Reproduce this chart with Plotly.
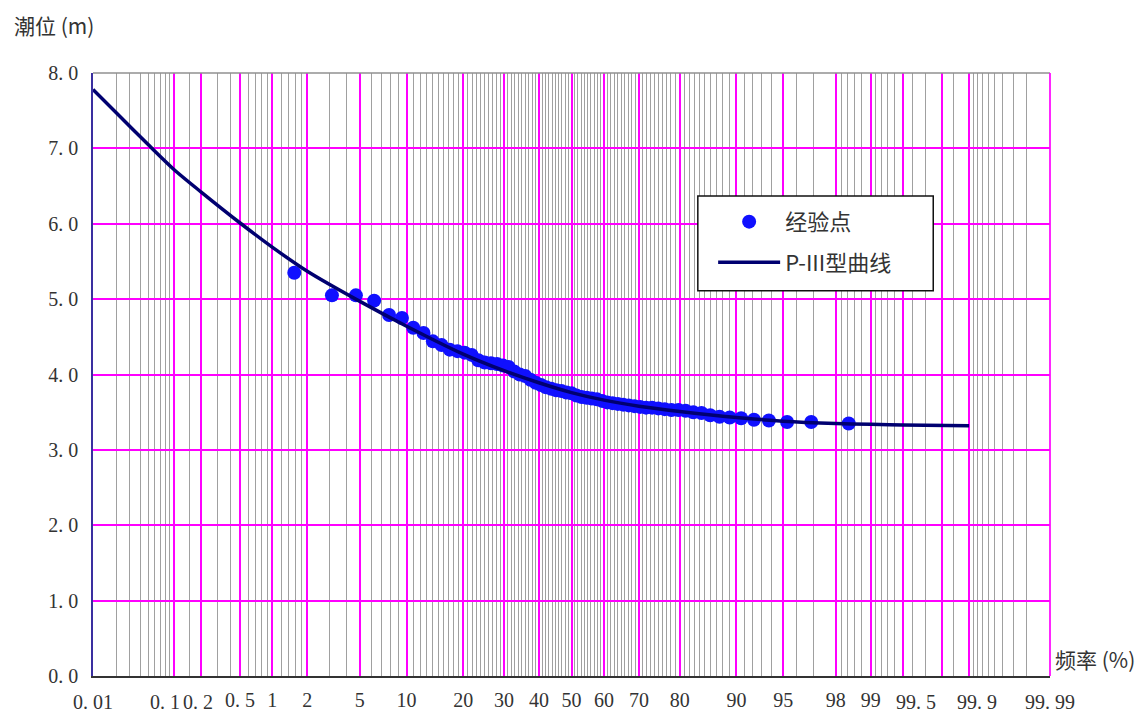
import plotly.graph_objects as go
from statistics import NormalDist

# ---- data ----------------------------------------------------------------
# empirical points: exceedance frequency (%) and tide level (m)
obs_freq = [1.56, 3.13, 4.69, 6.25, 7.81, 9.38, 10.94, 12.50, 14.06, 15.63,
            17.19, 18.75, 20.31, 21.88, 23.44, 25.00, 26.56, 28.13, 29.69, 31.25,
            32.81, 34.38, 35.94, 37.50, 39.06, 40.63, 42.19, 43.75, 45.31, 46.88,
            48.44, 50.00, 51.56, 53.13, 54.69, 56.25, 57.81, 59.38, 60.94, 62.50,
            64.06, 65.63, 67.19, 68.75, 70.31, 71.88, 73.44, 75.00, 76.56, 78.13,
            79.69, 81.25, 82.81, 84.38, 85.94, 87.50, 89.06, 90.63, 92.19, 93.75,
            95.31, 96.88, 98.44]
obs_level = [5.35, 5.05, 5.05, 4.98, 4.79, 4.75, 4.62, 4.55, 4.44, 4.39,
             4.33, 4.31, 4.29, 4.26, 4.19, 4.16, 4.15, 4.14, 4.12, 4.10,
             4.04, 4.00, 3.98, 3.93, 3.89, 3.86, 3.83, 3.81, 3.79, 3.78,
             3.76, 3.75, 3.72, 3.70, 3.69, 3.68, 3.67, 3.65, 3.63, 3.62,
             3.61, 3.60, 3.59, 3.58, 3.57, 3.56, 3.56, 3.55, 3.54, 3.53,
             3.53, 3.52, 3.50, 3.49, 3.46, 3.44, 3.43, 3.42, 3.40, 3.39,
             3.37, 3.37, 3.35]

# fitted Pearson type III curve
curve_freq = [0.01, 0.02, 0.05, 0.1, 0.2, 0.5, 1, 2, 5, 10, 20, 30, 40, 50,
              60, 70, 80, 90, 95, 98, 99, 99.5, 99.9]
curve_level = [7.78, 7.475, 7.05, 6.72, 6.42, 6.01, 5.69, 5.37, 4.97, 4.64,
               4.27, 4.05, 3.89, 3.76, 3.66, 3.58, 3.51, 3.43, 3.38, 3.35,
               3.34, 3.33, 3.32]

# probability-paper grid and labels (%)
major_grid = [0.1, 0.2, 0.5, 1, 2, 5, 10, 20, 30, 40, 50, 60, 70, 80, 90,
              95, 98, 99, 99.5, 99.8, 99.9, 99.99]
minor_grid = ([0.02, 0.03, 0.04, 0.05, 0.06, 0.07, 0.08, 0.09, 0.15, 0.3, 0.4,
               0.6, 0.7, 0.8, 0.9, 1.2, 1.4, 1.6, 1.8, 3, 4, 6, 7, 8, 9]
              + list(range(11, 20)) + list(range(21, 30)) + list(range(31, 40))
              + list(range(41, 50)) + list(range(51, 60)) + list(range(61, 70))
              + list(range(71, 80)) + list(range(81, 90))
              + [91, 92, 93, 94, 96, 97, 98.2, 98.4, 98.6, 98.8,
                 99.1, 99.2, 99.3, 99.4, 99.6, 99.7, 99.85,
                 99.91, 99.92, 99.93, 99.94, 99.95, 99.96, 99.97, 99.98])
tick_freq = [0.01, 0.1, 0.2, 0.5, 1, 2, 5, 10, 20, 30, 40, 50, 60, 70, 80,
             90, 95, 98, 99, 99.5, 99.9, 99.99]
tick_text = ["0. 01", "0. 1", "0. 2", "0. 5", "1", "2", "5", "10", "20", "30",
             "40", "50", "60", "70", "80", "90", "95", "98", "99", "99. 5",
             "99. 9", "99. 99"]
y_ticks = [0, 1, 2, 3, 4, 5, 6, 7, 8]
y_text = ["0. 0", "1. 0", "2. 0", "3. 0", "4. 0", "5. 0", "6. 0", "7. 0", "8. 0"]

# horizontal nudges (px) for the x labels that sit off their grid line
label_nudge = {0.1: -9, 0.2: -3, 99.5: 13, 99.9: 8}

# ---- normal probability scale ----------------------------------------------
_nd = NormalDist()


def zq(p):
    return _nd.inv_cdf(p / 100.0)


PINK = "#ff00ff"
GREY = "#a0a0a0"
INK = "#333333"
NUM_FONT = "Liberation Serif"
CJK_FONT = "Noto Sans CJK SC"
LABEL_SIZE = 20

fig = go.Figure()

fig.add_trace(go.Scatter(
    x=[zq(p) for p in obs_freq], y=obs_level, mode="markers",
    name="经验点", legendgroup="pts",
    marker=dict(color="#1010ff", size=14, line=dict(width=0)),
))
fig.add_trace(go.Scatter(
    x=[zq(p) for p in curve_freq], y=curve_level, mode="lines",
    name="P-III型曲线", legendgroup="fit",
    line=dict(color="#000070", width=3.5, shape="spline", smoothing=0.8),
))

xmin, xmax = zq(0.01), zq(99.99)

# labels drawn by the axis itself: every labelled major line except the
# border ones and the nudged ones, which are placed as annotations below
axis_labels = {p: t for p, t in zip(tick_freq, tick_text)
               if p not in label_nudge and p not in (0.01, 99.99)}

fig.update_xaxes(
    range=[xmin, xmax],
    tickmode="array",
    tickvals=[zq(p) for p in major_grid],
    ticktext=[axis_labels.get(p, "") for p in major_grid],
    tickangle=0,
    showgrid=True, gridcolor=PINK, gridwidth=1.7,
    minor=dict(tickmode="array", tickvals=[zq(p) for p in minor_grid],
               showgrid=True, gridcolor=GREY, gridwidth=1, ticks=""),
    ticks="", showline=True, linecolor=INK, linewidth=2,
    tickfont=dict(family=NUM_FONT, size=LABEL_SIZE, color=INK),
    ticklabelstandoff=5, automargin=False,
    zeroline=False, fixedrange=True,
)
fig.update_yaxes(
    range=[0, 8], tickmode="array", tickvals=y_ticks, ticktext=y_text,
    showgrid=True, gridcolor=PINK, gridwidth=1.7,
    ticks="", showline=True, linecolor="#3a2fa0", linewidth=1.5,
    tickfont=dict(family=NUM_FONT, size=LABEL_SIZE, color=INK),
    zeroline=False, ticklabelstandoff=9, automargin=False,
)

# remaining x labels: the two border values and the nudged ones
for p, t in zip(tick_freq, tick_text):
    if p in axis_labels:
        continue
    fig.add_annotation(x=zq(p), y=0, xref="x", yref="y", text=t,
                       showarrow=False, yanchor="top", yshift=-13,
                       xshift=label_nudge.get(p, 0),
                       font=dict(family=NUM_FONT, size=LABEL_SIZE, color=INK))

# frame: grey top edge, pink right edge
fig.add_shape(type="line", xref="paper", yref="paper", x0=0, x1=1, y0=1, y1=1,
              line=dict(color="#909090", width=1.5))
fig.add_shape(type="line", xref="paper", yref="paper", x0=1, x1=1, y0=0, y1=1,
              line=dict(color=PINK, width=1.7))

# legend frame
fig.add_shape(type="rect", xref="paper", yref="paper", layer="above",
              x0=0.632, x1=0.878, y0=0.639, y1=0.796,
              fillcolor="white", line=dict(color="#111111", width=1.5))

fig.add_annotation(xref="paper", yref="paper", x=-0.085, y=1.08,
                   xanchor="left", yanchor="middle", text="潮位 (m)",
                   showarrow=False,
                   font=dict(family=CJK_FONT, size=21, color=INK))
fig.add_annotation(xref="paper", yref="paper", x=1.003, y=0.0,
                   xanchor="left", yanchor="bottom", text="频率 (%)",
                   showarrow=False,
                   font=dict(family=CJK_FONT, size=21, color=INK))

fig.update_layout(
    width=1145, height=722,
    margin=dict(l=93, r=95, t=73, b=46),
    plot_bgcolor="white", paper_bgcolor="white",
    showlegend=True,
    legend=dict(x=0.648, y=0.788, xanchor="left", yanchor="top",
                bgcolor="rgba(0,0,0,0)", borderwidth=0,
                font=dict(family=CJK_FONT, size=22, color=INK),
                itemwidth=62, tracegroupgap=9),
)

fig.write_html("out.html")
